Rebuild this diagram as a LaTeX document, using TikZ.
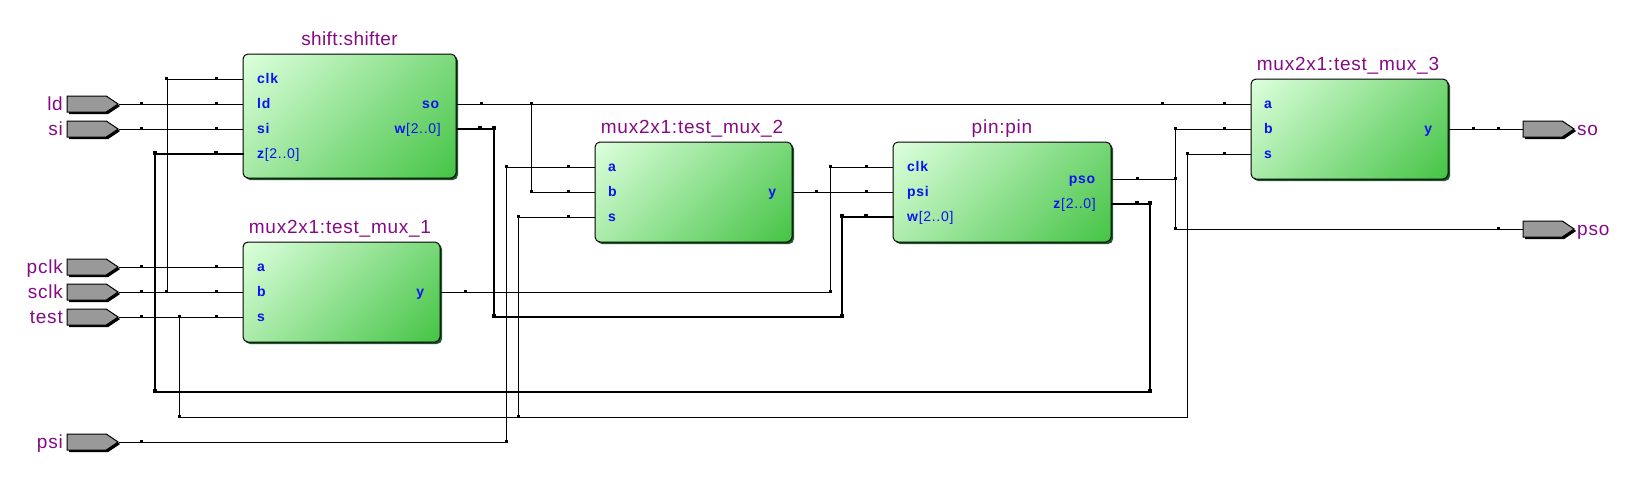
\documentclass[tikz,border=0pt]{standalone}
\usepackage{fontspec}
\setmainfont{Liberation Sans}
\usetikzlibrary{shadows,shapes.symbols}
\definecolor{ttl}{HTML}{850A85}
\definecolor{prt}{HTML}{0A14F0}
\definecolor{gl}{HTML}{DCFFDC}
\definecolor{gd}{HTML}{46C446}
\definecolor{shd}{HTML}{1E5A2D}
\definecolor{pingray}{HTML}{999999}
\pgfdeclareverticalshading{diagblock}{100bp}{color(0bp)=(gd); color(15bp)=(gd); color(85bp)=(gl); color(100bp)=(gl)}
\tikzset{
 block/.style={rectangle,rounded corners=5pt,draw=black,line width=1pt,inner sep=0pt,
   minimum width=#1,minimum height=100pt,
   general shadow={fill=shd,shadow xshift=2pt,shadow yshift=-2pt},
   shade,shading=diagblock,shading angle=45},
 ttlnode/.style={inner sep=0pt,text=ttl,anchor=base,font=\fontsize{19}{19}\addfontfeature{LetterSpace=4}\selectfont},
 pinlabel/.style={inner sep=0pt,text=ttl,font=\fontsize{19}{19}\addfontfeature{LetterSpace=4}\selectfont},
 prtl/.style={inner sep=0pt,text=prt,anchor=base west,font=\fontsize{14}{15}\addfontfeature{LetterSpace=5}\selectfont},
 prtr/.style={inner sep=0pt,text=prt,anchor=base east,font=\fontsize{14}{15}\addfontfeature{LetterSpace=5}\selectfont},
 iopin/.style={signal,signal to=east,signal pointer angle=68,draw=black,line width=1pt,fill=pingray,
   minimum width=51pt,minimum height=16pt,inner sep=0pt,anchor=east,
   general shadow={fill=black,shadow xshift=2pt,shadow yshift=-2pt}},
 thin wire/.style={line width=1pt,black,xshift=.5pt,yshift=-.5pt},
 bus/.style={line width=2pt,black,line cap=rect},
}
\begin{document}
\begin{tikzpicture}[x=1pt,y=-1pt]
\useasboundingbox (0,0) rectangle (1637,479);
% blocks
\node[block=213pt,minimum height=124pt] (shifter) at (349.5,116) {};
\node[block=197pt] (muxa) at (341.5,292) {};
\node[block=197pt] (muxb) at (693.5,192) {};
\node[block=218pt] (pinb) at (1002,192) {};
\node[block=197pt] (muxc) at (1349.5,129) {};
% titles
\node[ttlnode,font=\fontsize{19}{19}\addfontfeature{LetterSpace=2}\selectfont] (t1) at ([yshift=8pt]shifter.north) {shift:shifter};
\node[ttlnode] (t2) at ([xshift=-1.5pt,yshift=8pt]muxa.north) {mux2x1:test\_mux\_1};
\node[ttlnode] (t3) at ([xshift=-1.5pt,yshift=8pt]muxb.north) {mux2x1:test\_mux\_2};
\node[ttlnode] (t4) at ([yshift=8pt]pinb.north) {pin:pin};
\node[ttlnode] (t5) at ([xshift=-1.5pt,yshift=8pt]muxc.north) {mux2x1:test\_mux\_3};
% io pins
\foreach \n/\y in {ld/104,si/129,pclk/267,sclk/292,test/317,psi/442}{
  \node[iopin] (\n) at (119,\y) {};
  \node[pinlabel,anchor=base east] (\n-l) at (63,\y+6.5) {\n};
}
\foreach \n/\y in {so/129,pso/229}{
  \node[iopin] (\n) at (1575,\y) {};
  \node[pinlabel,anchor=base west] (\n-l) at (1577,\y+6.5) {\n};
}
% port labels
\foreach \b/\x/\y/\t in {shifter/257/79/clk,shifter/257/104/ld,shifter/257/129/si,
   muxa/257/267/a,muxa/257/292/b,muxa/257/317/s,
   muxb/608/167/a,muxb/608/192/b,muxb/608/217/s,
   pinb/907/167/clk,pinb/907/192/psi,
   muxc/1264/104/a,muxc/1264/129/b,muxc/1264/154/s}{
  \node[prtl] (\b-\t-l) at (\x,\y+4) {\textbf{\t}};
}
\node[prtl] (shifter-z-l) at (257,158) {\textbf{z}[2..0]};
\node[prtl] (pinb-w-l) at (907,221) {\textbf{w}[2..0]};
\node[prtr] (shifter-so-l) at (440,108) {\textbf{so}};
\node[prtr] (shifter-w-l) at (441,133) {\textbf{w}[2..0]};
\node[prtr] (muxa-y-l) at (425,296) {\textbf{y}};
\node[prtr] (muxb-y-l) at (777,196) {\textbf{y}};
\node[prtr] (pinb-so-l) at (1096,183) {\textbf{pso}};
\node[prtr] (pinb-z-l) at (1096,208) {\textbf{z}[2..0]};
\node[prtr] (muxc-y-l) at (1433,133) {\textbf{y}};
% ports on the blocks
\foreach \b/\n/\y in {shifter/clk/79,shifter/ld/104,shifter/si/129,shifter/z/154,
   muxa/a/267,muxa/b/292,muxa/s/317,muxb/a/167,muxb/b/192,muxb/s/217,
   pinb/clk/167,pinb/psi/192,pinb/w/217,muxc/a/104,muxc/b/129,muxc/s/154}{
  \coordinate (\b-\n) at (\b.west |- 0,\y);
}
\foreach \b/\n/\y in {shifter/so/104,shifter/w/129,muxa/y/292,muxb/y/192,
   pinb/so/179,pinb/z/204,muxc/y/129}{
  \coordinate (\b-\n) at (\b.east |- 0,\y);
}
% bends
\coordinate (clkup) at (167,292);
\coordinate (soj) at (531,104);
\coordinate (testj) at (179,317);
\coordinate (testlow) at (518,417);
\coordinate (wbend) at (494,317);
\coordinate (wup) at (842,317);
\coordinate (yup) at (830,292);
\coordinate (psoj) at (1175,179);
\coordinate (zdown) at (1150,392);
\coordinate (sel) at (1187,417);
% thin wires
\draw[thin wire] (ld.east) -- (shifter-ld);
\draw[thin wire] (si.east) -- (shifter-si);
\draw[thin wire] (pclk.east) -- (muxa-a);
\draw[thin wire] (sclk.east) -- (muxa-b);
\draw[thin wire] (test.east) -- (muxa-s);
\draw[thin wire] (clkup) |- (shifter-clk);
\draw[thin wire] (testj) |- (testlow);
\draw[thin wire] (testlow) -- (sel) |- (muxc-s);
\draw[thin wire] (testlow) |- (muxb-s);
\draw[thin wire] (psi.east) -| (506,442) |- (muxb-a);
\draw[thin wire] (shifter-so) -- (muxc-a);
\draw[thin wire] (soj) |- (muxb-b);
\draw[thin wire] (muxa-y) -- (yup) |- (pinb-clk);
\draw[thin wire] (muxb-y) -- (pinb-psi);
\draw[thin wire] (pinb-so) -- (psoj);
\draw[thin wire] (psoj) |- (muxc-b);
\draw[thin wire] (psoj) |- (pso.west);
\draw[thin wire] (muxc-y) -- (so.west);
% buses
\draw[bus] (shifter-z) -| (155,392) -- (zdown) |- (pinb-z);
\draw[bus] (shifter-w) -| (wbend) -- (wup) |- (pinb-w);
% ticks
\foreach \x/\y in {216/79,166/79,141/104,216/104,141/129,216/129,
   141/267,216/267,141/292,166/292,216/292,141/317,179/317,216/317,
   179/417,518/417,506/442,141/442,481/104,531/104,1162/104,1224/104,
   506/167,568/167,531/192,568/192,518/217,568/217,
   465/292,830/292,830/167,866/167,816/192,866/192,
   1137/179,1175/179,1175/129,1224/129,1175/229,1498/229,
   1187/154,1224/154,1473/129,1498/129}{
  \fill (\x-1,\y-2) rectangle ++(3,3);
}
\foreach \x/\y in {216/154,155/154,155/392,1150/392,1150/204,1137/204,
   480/129,494/129,494/317,842/317,842/217,866/217}{
  \fill (\x-2,\y-3) rectangle ++(4,4);
}
\end{tikzpicture}
\end{document}
